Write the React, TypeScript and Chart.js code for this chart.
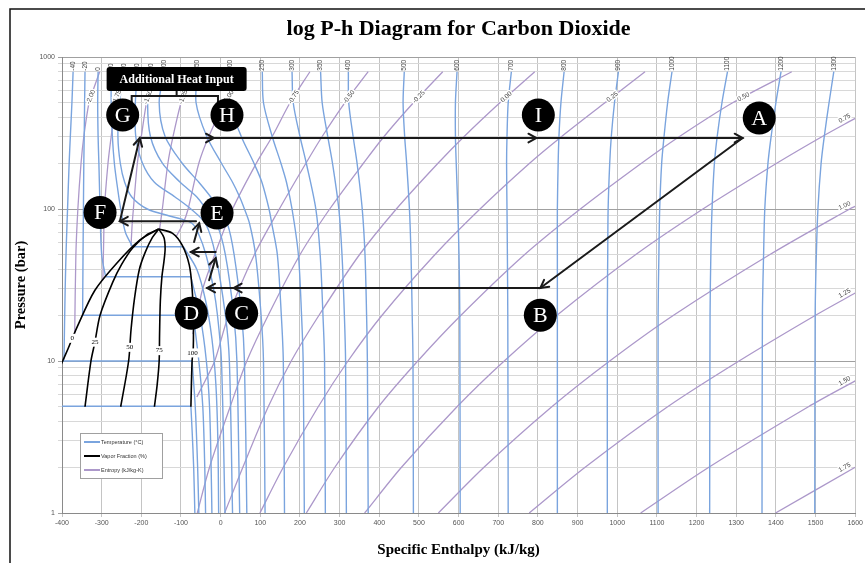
import React, { useEffect, useRef } from 'react';
import { Chart, registerables } from 'chart.js';

Chart.register(...registerables);

type Pt = [number, number]; // [specific enthalpy kJ/kg, pressure bar]

// ---------------- axes ----------------
const enthalpyTicks = [-400, -300, -200, -100, 0, 100, 200, 300, 400, 500, 600, 700, 800, 900, 1000, 1100, 1200, 1300, 1400, 1500, 1600];
const pressureTicks = [1, 2, 3, 4, 5, 6, 7, 8, 9, 10, 20, 30, 40, 50, 60, 70, 80, 90, 100, 200, 300, 400, 500, 600, 700, 800, 900, 1000];
const pressureLabels = [1, 10, 100, 1000];

// ---------------- vapor fraction (%) ----------------
const vf0: Pt[] = [[-156, 73.8], [-204, 62.4], [-262, 44], [-317, 29.2], [-362, 16.7], [-385, 12], [-402, 9.5]];
const vf25: Pt[] = [[-156, 73.8], [-185, 68], [-222, 55.3], [-250, 43], [-272, 33], [-304, 20], [-317, 13.3], [-327, 10], [-342, 5]];
const vf50: Pt[] = [[-156, 73.8], [-172, 65], [-190, 52], [-205, 40], [-217, 26], [-226, 16], [-232, 10], [-252, 5]];
const vf75: Pt[] = [[-156, 73.8], [-143, 65], [-140, 55], [-143, 45], [-148, 36], [-152, 25], [-154, 15], [-155, 10], [-160, 7], [-167, 5]];
const vf100: Pt[] = [[-156, 73.8], [-122, 69.4], [-97, 57.8], [-79, 42.7], [-72, 30], [-69, 20], [-69, 12.1], [-72, 10], [-75, 5]];
const vfNames = ['0', '25', '50', '75', '100'];
const vfLabelH = [-374, -317, -229, -155, -71];
const vfLabelP = [14.1, 13.3, 12.3, 11.7, 11.3];

// ---------------- isotherms (°C) ----------------
const tM55Sat: Pt[] = [[-400, 5.04], [-75, 5.04]];
const tM55Vap: Pt[] = [[-75, 5.04], [-72, 3.5], [-68, 2], [-65, 1]];
const tM40Liq: Pt[] = [[-395, 10.2], [-392, 30], [-389, 60], [-386, 100], [-382, 200], [-379, 300], [-375, 500], [-372, 800]];
const tM40Sat: Pt[] = [[-400, 10], [-72, 10]];
const tM40Vap: Pt[] = [[-72, 10], [-64, 5], [-58, 2], [-55, 1]];
const tM20Liq: Pt[] = [[-348, 20], [-347, 50], [-346, 100], [-345, 200], [-344, 300], [-343, 500], [-342, 800]];
const tM20Sat: Pt[] = [[-348, 20], [-69, 20]];
const tM20Vap: Pt[] = [[-69, 20], [-55, 10], [-45, 5], [-40, 2], [-38, 1]];
const t0Liq: Pt[] = [[-290, 35.8], [-300, 50], [-304, 100], [-307, 200], [-309, 300], [-310, 500], [-309, 800]];
const t0Sat: Pt[] = [[-290, 35.8], [-75, 35.8]];
const t0Vap: Pt[] = [[-75, 35.8], [-52, 20], [-36, 10], [-28, 5], [-24, 2], [-22, 1]];
const t20Liq: Pt[] = [[-222, 56.5], [-240, 70], [-252, 100], [-262, 150], [-268, 200], [-273, 300], [-276, 500], [-276, 800]];
const t20Sat: Pt[] = [[-222, 56.5], [-94, 56.5]];
const t20Vap: Pt[] = [[-94, 56.5], [-60, 40], [-38, 25], [-22, 14], [-12, 7], [-7, 3], [-5, 1]];
const t40: Pt[] = [[11, 1], [2, 10], [-8, 20], [-18, 30], [-37, 50], [-57, 70], [-71, 80], [-100, 86], [-129, 90], [-185, 100], [-224, 120], [-242, 150], [-253, 200], [-259, 300], [-255, 500], [-243, 800]];
const t60: Pt[] = [[30, 1], [22, 10], [12, 20], [-13, 50], [-38, 80], [-75, 100], [-115, 120], [-167, 150], [-197, 200], [-214, 300], [-215, 500], [-210, 800]];
const t80: Pt[] = [[48, 1], [41, 10], [33, 20], [12, 50], [-10, 80], [-37, 100], [-60, 120], [-102, 150], [-147, 200], [-177, 300], [-184, 500], [-176, 800]];
const t100: Pt[] = [[66, 1], [60, 10], [53, 20], [34, 50], [17, 80], [-6, 100], [-25, 120], [-55, 150], [-97, 200], [-140, 300], [-155, 500], [-142, 800]];
const t150: Pt[] = [[112, 1], [108, 10], [102, 20], [88, 50], [73, 80], [60, 100], [48, 120], [30, 150], [2, 200], [-35, 300], [-62, 500], [-58, 800]];
const t200: Pt[] = [[161, 1], [158, 10], [153, 20], [143, 50], [129, 80], [122, 100], [104, 150], [84, 200], [52, 300], [22, 500], [25, 800]];
const t250: Pt[] = [[211, 1], [208, 10], [204, 20], [196, 50], [180, 100], [166, 150], [152, 200], [130, 300], [108, 500], [105, 800]];
const t300: Pt[] = [[264, 1], [262, 10], [258, 20], [251, 50], [240, 100], [216, 200], [200, 300], [183, 500], [180, 800]];
const t350: Pt[] = [[317, 1], [315, 10], [312, 20], [306, 50], [298, 100], [282, 200], [270, 300], [256, 500], [252, 800]];
const t400: Pt[] = [[372, 1], [370, 10], [368, 20], [364, 50], [357, 100], [344, 200], [334, 300], [323, 500], [322, 800]];
const t500: Pt[] = [[486, 1], [485, 10], [483, 20], [480, 50], [476, 100], [469, 200], [464, 300], [460, 500], [463, 800]];
const t600: Pt[] = [[604, 1], [603, 20], [601, 50], [598, 100], [594, 200], [592, 300], [592, 500], [596, 800]];
const t700: Pt[] = [[725, 1], [724, 20], [723, 50], [722, 100], [721, 200], [722, 300], [725, 500], [733, 800]];
const t800: Pt[] = [[849, 1], [849, 20], [849, 50], [849, 100], [851, 200], [853, 300], [858, 500], [866, 800]];
const t900: Pt[] = [[975, 1], [975, 20], [976, 50], [977, 100], [981, 200], [985, 300], [993, 500], [1003, 800]];
const t1000: Pt[] = [[1103, 1], [1103, 20], [1105, 50], [1107, 100], [1112, 200], [1118, 300], [1127, 500], [1138, 800]];
const t1100: Pt[] = [[1233, 1], [1234, 20], [1236, 50], [1239, 100], [1245, 200], [1252, 300], [1264, 500], [1278, 800]];
const t1200: Pt[] = [[1365, 1], [1366, 20], [1369, 50], [1372, 100], [1380, 200], [1388, 300], [1400, 500], [1413, 800]];
const t1300: Pt[] = [[1498, 1], [1499, 20], [1502, 50], [1506, 100], [1514, 200], [1522, 300], [1534, 500], [1546, 800]];
const isothermNames = ['-40', '-20', '0', '20', '40', '60', '80', '100', '150', '200', '250', '300', '350', '400', '500', '600', '700', '800', '900', '1000', '1100', '1200', '1300'];

// ---------------- isentropes (kJ/kg-K) ----------------
const sM200: Pt[] = [[-368, 15], [-365, 50], [-360, 100], [-352, 200], [-345, 300], [-332, 500], [-322, 600], [-305, 800]];
const sM175: Pt[] = [[-297, 34], [-295, 60], [-293, 100], [-284, 200], [-276, 300], [-265, 500], [-258, 600], [-243, 800]];
const sM150: Pt[] = [[-226, 57], [-223, 80], [-220, 100], [-210, 200], [-200, 300], [-187, 500], [-178, 600], [-162, 800]];
const sM125: Pt[] = [[-154, 73.5], [-147, 100], [-133, 200], [-120, 300], [-100, 500], [-88, 600], [-65, 800]];
const sM100: Pt[] = [[-112, 66], [-95, 80], [-82, 100], [-55, 200], [-30, 300], [10, 500], [30, 600], [62, 800]];
const sM075: Pt[] = [[-70, 15], [-60, 20], [-45, 30], [-15, 50], [30, 100], [90, 200], [130, 300], [175, 500], [225, 800]];
const sM050: Pt[] = [[-60, 5.8], [-38, 7.5], [-15, 10], [20, 20], [85, 50], [148, 100], [215, 200], [256, 300], [313, 500], [372, 800]];
const sM025: Pt[] = [[-59, 1], [-28, 2], [24, 5], [66, 10], [120, 20], [200, 50], [275, 100], [360, 200], [412, 300], [486, 500], [560, 800]];
const s000: Pt[] = [[10, 1], [56, 2], [120, 5], [178, 10], [248, 20], [350, 50], [443, 100], [548, 200], [614, 300], [704, 500], [792, 800]];
const s025: Pt[] = [[99, 1], [158, 2], [246, 5], [321, 10], [407, 20], [540, 50], [654, 100], [779, 200], [860, 300], [969, 500], [1070, 800]];
const s050: Pt[] = [[216, 1], [288, 2], [398, 5], [497, 10], [606, 20], [766, 50], [907, 100], [1061, 200], [1157, 300], [1291, 500], [1440, 800]];
const s075: Pt[] = [[363, 1], [456, 2], [596, 5], [715, 10], [848, 20], [1046, 50], [1216, 100], [1402, 200], [1517, 300], [1600, 395]];
const s100: Pt[] = [[549, 1], [664, 2], [835, 5], [981, 10], [1142, 20], [1384, 50], [1586, 100], [1600, 104]];
const s125: Pt[] = [[778, 1], [919, 2], [1127, 5], [1307, 10], [1500, 20], [1600, 28]];
const s150: Pt[] = [[1059, 1], [1231, 2], [1482, 5], [1600, 7.4]];
const s175: Pt[] = [[1399, 1], [1600, 2.0]];
const isentropeTopNames = ['-2.00', '-1.75', '-1.50', '-1.25', '-1.00', '-0.75', '-0.50', '-0.25', '0.00', '0.25', '0.50'];
const isentropeRightNames = ['0.75', '1.00', '1.25', '1.50', '1.75'];
const isentropeLabelP = 545;

// ---------------- process annotations ----------------
const markerNames = ['G', 'H', 'I', 'A', 'F', 'E', 'D', 'C', 'B'];
const markerH = [-247, 16, 801, 1358, -304, -9, -74, 53, 806];
const markerP = [415, 415, 415, 397, 95, 94, 20.6, 20.6, 20];
const arrowFromH = [-199, -17, 796, 1316, 806, 33, -29, -12.5, -67, -62, -254];
const arrowFromP = [293, 293, 293, 293, 30.2, 30.2, 34, 52.1, 60.6, 83.2, 83.2];
const arrowToH = [-17, 796, 1316, 806, 33, -34, -12.5, -75, -54, -254, -204];
const arrowToP = [293, 293, 293, 30.2, 30.2, 30.2, 47.5, 52.1, 80.7, 83.2, 293];
const heatBoxText = 'Additional Heat Input';
const heatBoxH = -111;
const heatBoxP = 716;

const T_COLOR = 'rgb(122,164,222)';
const S_COLOR = 'rgb(172,152,202)';
const VF_COLOR = '#000000';
const SERIF = '"Liberation Serif", "Times New Roman", serif';
const SANS = '"Liberation Sans", Arial, sans-serif';

function line(pts: Pt[], color: string, width: number, tension: number) {
  return {
    data: pts.map(([h, p]) => ({ x: h, y: p })),
    borderColor: color,
    backgroundColor: color,
    borderWidth: width,
    pointRadius: 0,
    pointHoverRadius: 0,
    showLine: true,
    fill: false,
    tension,
  };
}

function arrowHead(ctx: CanvasRenderingContext2D, x1: number, y1: number, x2: number, y2: number) {
  const a = Math.atan2(y2 - y1, x2 - x1);
  const L = 9;
  const w = 0.5;
  ctx.beginPath();
  ctx.moveTo(x2 - L * Math.cos(a - w), y2 - L * Math.sin(a - w));
  ctx.lineTo(x2, y2);
  ctx.lineTo(x2 - L * Math.cos(a + w), y2 - L * Math.sin(a + w));
  ctx.stroke();
}

const isothermTopCurves = [tM40Liq, tM20Liq, t0Liq, t20Liq, t40, t60, t80, t100, t150, t200, t250, t300, t350, t400, t500, t600, t700, t800, t900, t1000, t1100, t1200, t1300];
const isentropeTopCurves = [sM200, sM175, sM150, sM125, sM100, sM075, sM050, sM025, s000, s025, s050];
const isentropeRightCurves = [s075, s100, s125, s150, s175];

const annotationPlugin = {
  id: 'phAnnotations',
  beforeDraw(chart: any) {
    const { ctx, width, height } = chart;
    ctx.save();
    ctx.fillStyle = '#ffffff';
    ctx.fillRect(0, 0, width, height);
    ctx.restore();
  },
  afterDatasetsDraw(chart: any) {
    const { ctx, chartArea: ca } = chart;
    const xs = chart.scales.x;
    const ys = chart.scales.y;
    const X = (h: number) => xs.getPixelForValue(h);
    const Y = (p: number) => ys.getPixelForValue(p);
    ctx.save();

    // isotherm labels at top
    ctx.font = `6.5px ${SANS}`;
    ctx.fillStyle = '#444';
    isothermTopCurves.forEach((c, i) => {
      const last = c[c.length - 1];
      const x = X(last[0]);
      const y = Y(last[1]);
      if (x < ca.left || x > ca.right) return;
      ctx.save();
      ctx.translate(x, y - 1);
      ctx.rotate(-Math.PI / 2);
      ctx.textAlign = 'left';
      ctx.textBaseline = 'middle';
      ctx.fillText(isothermNames[i], 0, 0);
      ctx.restore();
    });

    // isentrope labels
    const drawRot = (txt: string, x: number, y: number, ang: number, align: CanvasTextAlign) => {
      ctx.save();
      ctx.translate(x, y);
      ctx.rotate(ang);
      ctx.textAlign = align;
      ctx.textBaseline = 'middle';
      ctx.lineWidth = 3;
      ctx.strokeStyle = '#fff';
      ctx.strokeText(txt, 0, 0);
      ctx.fillStyle = '#444';
      ctx.fillText(txt, 0, 0);
      ctx.restore();
    };
    ctx.font = `6.5px ${SANS}`;
    const yT = Y(isentropeLabelP);
    isentropeTopCurves.forEach((c, i) => {
      const px = c.map(([h, p]) => [X(h), Y(p)]);
      for (let k = 0; k < px.length - 1; k++) {
        const [x1, y1] = px[k];
        const [x2, y2] = px[k + 1];
        if ((y1 - yT) * (y2 - yT) <= 0 && y1 !== y2) {
          const t = (yT - y1) / (y2 - y1);
          const x = x1 + t * (x2 - x1);
          let ang = Math.atan2(y2 - y1, x2 - x1);
          if (ang < -1.2) ang = -1.2;
          drawRot(isentropeTopNames[i], x, yT, ang, 'center');
          break;
        }
      }
    });
    isentropeRightCurves.forEach((c, i) => {
      const n = c.length;
      const x2 = X(c[n - 1][0]);
      const y2 = Y(c[n - 1][1]);
      const x1 = X(c[n - 2][0]);
      const y1 = Y(c[n - 2][1]);
      const ang = Math.atan2(y2 - y1, x2 - x1);
      const ox = x2 - 3 * Math.cos(ang) + 5 * Math.sin(ang);
      const oy = y2 - 3 * Math.sin(ang) - 5 * Math.cos(ang);
      drawRot(isentropeRightNames[i], ox, oy, ang, 'right');
    });

    // vapor fraction labels
    ctx.font = `7px ${SERIF}`;
    vfNames.forEach((t, i) => {
      const x = X(vfLabelH[i]);
      const y = Y(vfLabelP[i]);
      const w = ctx.measureText(t).width + 3;
      ctx.fillStyle = '#fff';
      ctx.fillRect(x - w / 2, y - 4.5, w, 9);
      ctx.fillStyle = '#000';
      ctx.textAlign = 'center';
      ctx.textBaseline = 'middle';
      ctx.fillText(t, x, y);
    });

    // arrows
    ctx.strokeStyle = '#1a1a1a';
    ctx.lineWidth = 2;
    ctx.lineCap = 'round';
    arrowFromH.forEach((_, i) => {
      const x1 = X(arrowFromH[i]);
      const y1 = Y(arrowFromP[i]);
      const x2 = X(arrowToH[i]);
      const y2 = Y(arrowToP[i]);
      ctx.beginPath();
      ctx.moveTo(x1, y1);
      ctx.lineTo(x2, y2);
      ctx.stroke();
      arrowHead(ctx, x1, y1, x2, y2);
    });

    // bracket from heat box to G and H
    const gx = X(markerH[0]);
    const hx = X(markerH[1]);
    const gy = Y(markerP[0]);
    const bx = X(heatBoxH);
    const by = Y(heatBoxP);
    const brY = gy - 19;
    ctx.lineWidth = 2;
    ctx.lineCap = 'butt';
    ctx.beginPath();
    ctx.moveTo(bx, by + 10);
    ctx.lineTo(bx, brY);
    ctx.moveTo(gx + 9, gy - 12);
    ctx.lineTo(gx + 9, brY);
    ctx.lineTo(hx - 9, brY);
    ctx.lineTo(hx - 9, gy - 12);
    ctx.stroke();

    // heat input box
    ctx.fillStyle = '#000';
    const bw = 140;
    const bh = 24;
    ctx.beginPath();
    ctx.roundRect(bx - bw / 2, by - bh / 2, bw, bh, 3);
    ctx.fill();
    ctx.fillStyle = '#fff';
    ctx.font = `bold 12px ${SERIF}`;
    ctx.textAlign = 'center';
    ctx.textBaseline = 'middle';
    ctx.fillText(heatBoxText, bx, by + 1);

    // state markers
    markerNames.forEach((m, i) => {
      const x = X(markerH[i]);
      const y = Y(markerP[i]);
      ctx.fillStyle = '#000';
      ctx.beginPath();
      ctx.arc(x, y, 16.5, 0, Math.PI * 2);
      ctx.fill();
      ctx.fillStyle = '#fff';
      ctx.font = `22px ${SERIF}`;
      ctx.textAlign = 'center';
      ctx.textBaseline = 'middle';
      ctx.fillText(m, x, y + 1);
    });

    // legend
    const lx = ca.left + 18;
    const ly = ca.bottom - 80;
    ctx.fillStyle = '#fff';
    ctx.fillRect(lx, ly, 82, 45);
    ctx.strokeStyle = '#a0a0a0';
    ctx.lineWidth = 1;
    ctx.strokeRect(lx + 0.5, ly + 0.5, 82, 45);
    const entries: [string, string][] = [
      ['Temperature (\u00B0C)', T_COLOR],
      ['Vapor Fraction (%)', VF_COLOR],
      ['Entropy (kJ/kg-K)', S_COLOR],
    ];
    ctx.font = `5.5px ${SANS}`;
    ctx.textAlign = 'left';
    ctx.textBaseline = 'middle';
    entries.forEach(([t, c], i) => {
      const yy = ly + 9 + i * 14;
      ctx.strokeStyle = c;
      ctx.lineWidth = 2;
      ctx.beginPath();
      ctx.moveTo(lx + 4, yy);
      ctx.lineTo(lx + 20, yy);
      ctx.stroke();
      ctx.fillStyle = '#333';
      ctx.fillText(t, lx + 21, yy);
    });

    ctx.restore();
  },
  afterDraw(chart: any) {
    const { ctx, width, height } = chart;
    ctx.save();
    ctx.strokeStyle = '#111';
    ctx.lineWidth = 1.5;
    ctx.beginPath();
    ctx.moveTo(10, height + 5);
    ctx.lineTo(10, 9);
    ctx.lineTo(width + 5, 9);
    ctx.stroke();
    ctx.restore();
  },
};

export default function App() {
  const ref = useRef<HTMLCanvasElement>(null);
  useEffect(() => {
    document.body.style.margin = '0';
    const canvas = ref.current;
    if (!canvas) return;
    const datasets: any[] = [];
    [vf0, vf25, vf50, vf75, vf100].forEach((c) => datasets.push(line(c, VF_COLOR, 1.6, 0.3)));
    [tM55Vap, tM40Liq, tM40Vap, tM20Liq, tM20Vap, t0Liq, t0Vap, t20Liq, t20Vap, t40, t60, t80, t100, t150, t200, t250, t300, t350, t400, t500, t600, t700, t800, t900, t1000, t1100, t1200, t1300].forEach((c) =>
      datasets.push(line(c, T_COLOR, 1.4, 0.3))
    );
    [tM55Sat, tM40Sat, tM20Sat, t0Sat, t20Sat].forEach((c) => datasets.push(line(c, T_COLOR, 1.4, 0)));
    [sM200, sM175, sM150, sM125, sM100, sM075, sM050, sM025, s000, s025, s050, s075, s100, s125, s150, s175].forEach((c) =>
      datasets.push(line(c, S_COLOR, 1.3, 0.3))
    );

    const chart = new Chart(canvas, {
      type: 'scatter',
      data: { datasets },
      plugins: [annotationPlugin],
      options: {
        responsive: false,
        animation: false,
        devicePixelRatio: 1,
        events: [],
        layout: { padding: { left: 0, right: 3, top: 0, bottom: 0 }, autoPadding: false },
        plugins: {
          legend: { display: false },
          tooltip: { enabled: false },
          title: {
            display: true,
            fullSize: false,
            text: 'log P-h Diagram for Carbon Dioxide',
            color: '#000',
            font: { family: SERIF, size: 22, weight: 'bold' },
            padding: { top: 16, bottom: 14.6 },
          },
        },
        scales: {
          x: {
            type: 'linear',
            min: -400,
            max: 1600,
            afterBuildTicks: (scale: any) => {
              scale.ticks = enthalpyTicks.map((v) => ({ value: v }));
            },
            afterFit: (scale: any) => {
              scale.height = 50;
            },
            ticks: {
              autoSkip: false,
              maxRotation: 0,
              minRotation: 0,
              padding: 2,
              color: '#555',
              font: { family: SANS, size: 7 },
              callback: (v: any) => String(v),
            },
            grid: { color: '#c4c4c4', lineWidth: 1, tickLength: 4 },
            border: { color: '#8a8a8a' },
            title: {
              display: true,
              text: 'Specific Enthalpy (kJ/kg)',
              color: '#000',
              font: { family: SERIF, size: 15, weight: 'bold' },
              padding: { top: 0, bottom: 4 },
            },
          },
          y: {
            type: 'logarithmic',
            min: 1,
            max: 1000,
            afterBuildTicks: (scale: any) => {
              scale.ticks = pressureTicks.map((v) => ({ value: v, major: pressureLabels.includes(v) }));
            },
            afterFit: (scale: any) => {
              scale.width = 62;
            },
            ticks: {
              autoSkip: false,
              padding: 3,
              color: '#555',
              font: { family: SANS, size: 7 },
              callback: (v: any) => (pressureLabels.includes(Number(v)) ? String(v) : ''),
            },
            grid: {
              color: (c: any) => (c.tick && pressureLabels.includes(c.tick.value) ? '#a0a0a0' : '#d8d8d8'),
              lineWidth: 1,
              tickLength: 4,
            },
            border: { color: '#8a8a8a' },
            title: {
              display: true,
              text: 'Pressure (bar)',
              color: '#000',
              font: { family: SERIF, size: 14.5, weight: 'bold' },
              padding: { top: 13, bottom: 0 },
            },
          },
        },
      } as any,
    });
    return () => chart.destroy();
  }, []);
  return (
    <div style={{ width: 865, height: 563 }}>
      <canvas ref={ref} width={865} height={563} style={{ display: 'block' }} />
    </div>
  );
}
